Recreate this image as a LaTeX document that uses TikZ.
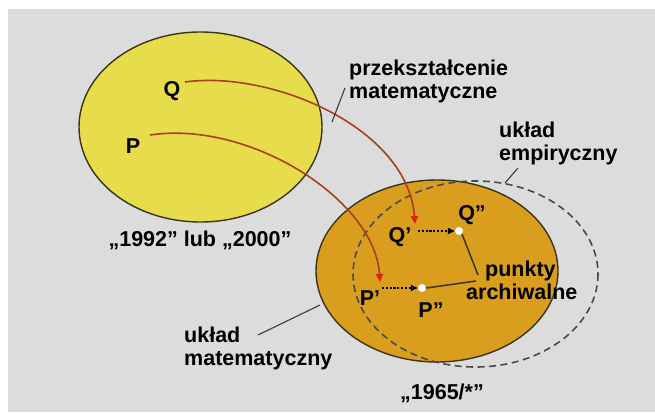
\documentclass[tikz,border=0pt]{standalone}
\usepackage{fontspec}
\setmainfont{Liberation Sans}
\usetikzlibrary{arrows.meta}
\definecolor{bggrey}{HTML}{DCDCDC}
\definecolor{setyellow}{HTML}{E6DC4C}
\definecolor{setorange}{HTML}{D99E1E}
\definecolor{rimdark}{HTML}{3A3518}
\definecolor{maparc}{HTML}{A8401C}
\definecolor{maptip}{HTML}{E0200E}
\definecolor{leadgrey}{HTML}{3C3C3C}
\definecolor{dashgrey}{HTML}{4A4A4A}
\tikzset{
  lbl/.style={font=\fontsize{21.5}{23}\selectfont\bfseries, inner sep=0pt, text=black, align=left},
  setrim/.style={draw=rimdark, line width=1.4pt},
  maparrow/.style={draw=maparc, line width=1.6pt, -{Triangle[length=8pt,width=7pt,color=maptip]}},
  steparrow/.style={draw=black, line width=1.4pt, dash pattern=on 2.2pt off 1.6pt, -{Triangle[length=7pt,width=6pt]}},
  leader/.style={draw=leadgrey, line width=1.1pt},
  archline/.style={draw=rimdark, line width=1.5pt},
  archdot/.style={circle, fill=white, draw=none, minimum size=8pt, inner sep=0pt}
}
\begin{document}
\begin{tikzpicture}[x=1pt, y=-1pt]
\useasboundingbox (0,0) rectangle (655,412);
\fill[white] (0,0) rectangle (655,412);
\fill[bggrey] (8,9) rectangle (655,412);

% the two sets
\filldraw[fill=setyellow, setrim] (200.5,127) ellipse [x radius=121.5, y radius=95];
\filldraw[fill=setorange, setrim] (437,271) ellipse [x radius=121, y radius=91];
% empirical frame
\draw[dashgrey, line width=1.6pt, dash pattern=on 7pt off 4.5pt] (475.5,274) ellipse [x radius=122.5, y radius=93];

% point labels
\node[lbl] (Q) at (172,91) {Q};
\node[lbl] (P) at (133,146) {P};
\node[lbl] (Q1) at (400,237) {Q'};
\node[lbl] (P1) at (370,298) {P'};
\node[lbl] (Q2) at (472,215) {Q''};
\node[lbl] (P2) at (431,310) {P''};

% archival points
\node[archdot] (q2dot) at (459,231) {};
\node[archdot] (p2dot) at (422,288) {};

% arc ends
\coordinate (qs) at (185,82);
\coordinate (qe) at (415,224);
\coordinate (ps) at (150,135);
\coordinate (pe) at (380,282);

% mapping arcs
\draw[maparrow] (qs) .. controls (272,70) and (408,128) .. (qe);
\draw[maparrow] (ps) .. controls (250,120) and (375,200) .. (pe);

% shifts to archival points
\draw[steparrow] (418,231) -- (q2dot.west);
\draw[steparrow] (382,288) -- (p2dot.west);

% captions
\node[lbl, anchor=west] (trans) at (349,81) {przekształcenie\\matematyczne};
\node[lbl, anchor=west] (emp) at (499,143) {układ\\empiryczny};
\node[lbl, anchor=west] (arch) at (466,280) {\hspace*{19pt}punkty\\archiwalne};
\node[lbl, anchor=west] (math) at (184,348) {układ\\matematyczny};
\node[lbl] (y1) at (200,240) {„1992” lub „2000”};
\node[lbl] (y2) at (442,393) {„1965/*”};

% leader lines
\coordinate (transfoot) at (332,122);
\coordinate (empfoot) at (505,183);
\coordinate (mathfoot) at (320,305);
\coordinate (archq) at (478,275);
\coordinate (archp) at (476,281);
\draw[leader] (345,88) -- (transfoot);
\draw[leader] (518,168) -- (empfoot);
\draw[leader] (258,335) -- (mathfoot);
\draw[archline] (q2dot.south east) -- (archq);
\draw[archline] (p2dot.east) -- (archp);
\end{tikzpicture}
\end{document}
